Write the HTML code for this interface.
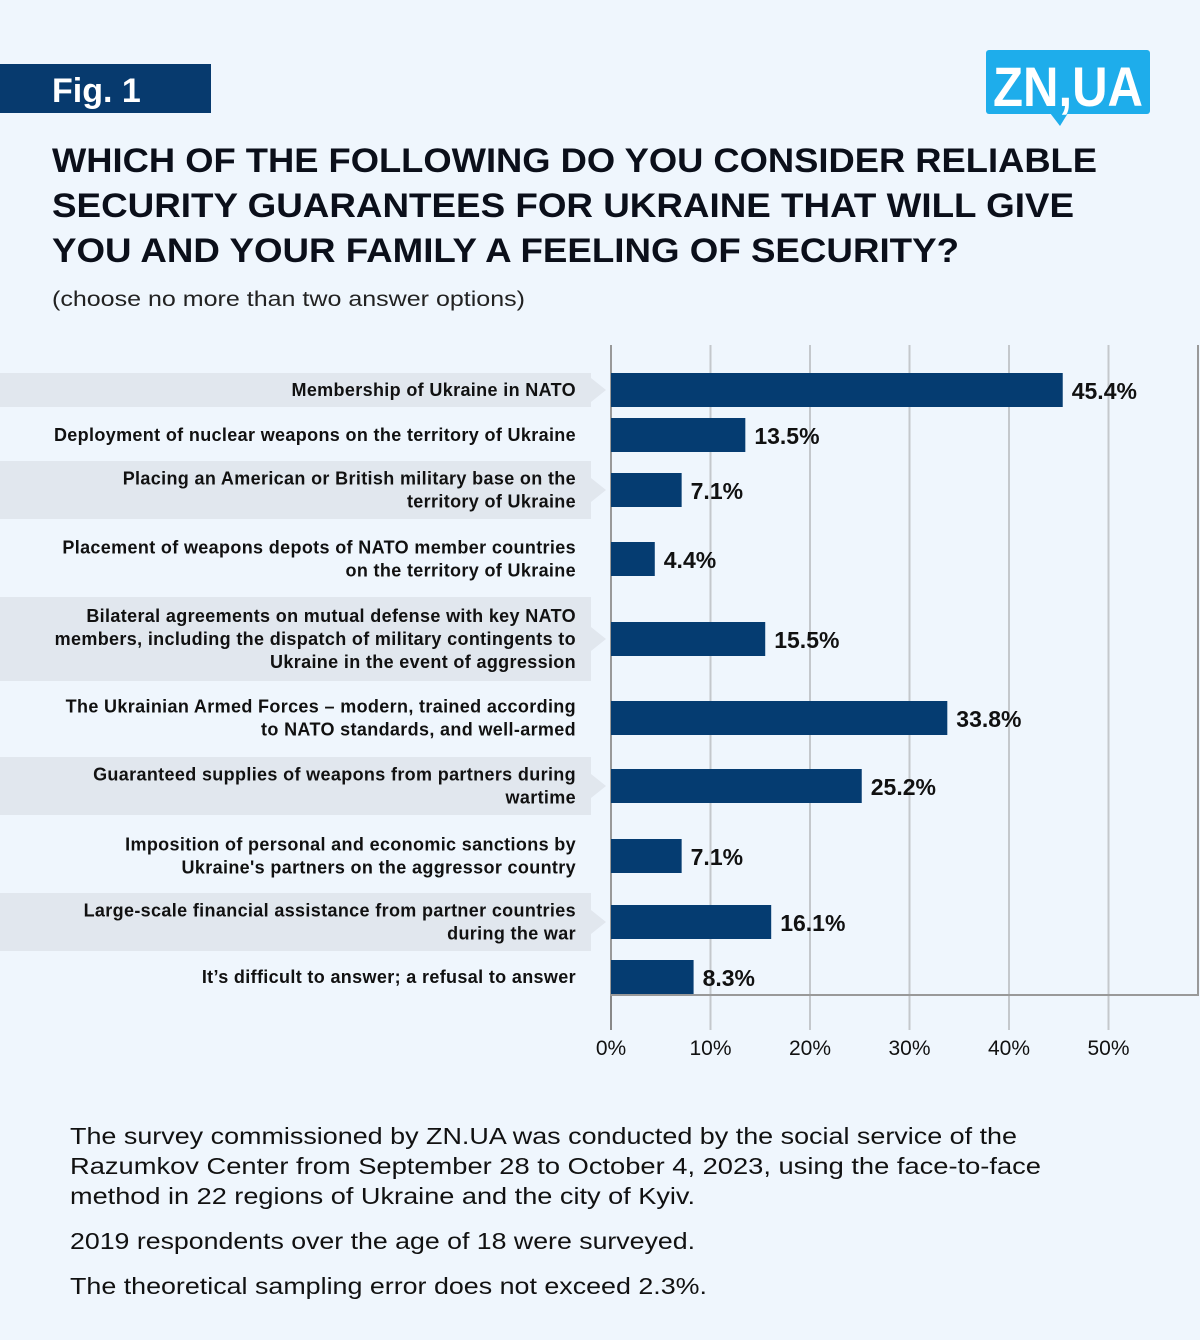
<!DOCTYPE html>
<html><head><meta charset="utf-8"><style>
body{margin:0;background:#eff6fd;}
svg{display:block;font-family:"Liberation Sans",sans-serif;}
</style></head><body>
<svg id="c" width="1200" height="1340" viewBox="0 0 1200 1340">
<rect width="1200" height="1340" fill="#eff6fd"/>
<rect x="0" y="64" width="211" height="49" fill="#073a6e"/>
<text x="52" y="102" font-size="34" font-weight="bold" fill="#fff">Fig. 1</text>
<g>
<rect x="986" y="50" width="164" height="64" rx="3" fill="#1eadeb"/>
<polygon points="1050,113 1068,113 1060,126" fill="#1eadeb"/>
<text x="1068" y="106" font-size="56" font-weight="bold" fill="#fff" text-anchor="middle" textLength="150" lengthAdjust="spacingAndGlyphs">ZN,UA</text>
</g>
<g font-size="34" font-weight="bold" fill="#0b0f1a">
<text x="52" y="172" textLength="1045" lengthAdjust="spacingAndGlyphs">WHICH OF THE FOLLOWING DO YOU CONSIDER RELIABLE</text>
<text x="52" y="217" textLength="1022" lengthAdjust="spacingAndGlyphs">SECURITY GUARANTEES FOR UKRAINE THAT WILL GIVE</text>
<text x="52" y="262" textLength="907" lengthAdjust="spacingAndGlyphs">YOU AND YOUR FAMILY A FEELING OF SECURITY?</text>
</g>
<text x="52" y="306" font-size="21" fill="#222" textLength="473" lengthAdjust="spacingAndGlyphs">(choose no more than two answer options)</text>
<g id="bands"></g>
<g id="grid"></g>
<g id="bars"></g>
<g id="labels"></g>
<g font-size="23" fill="#111">
<text x="70" y="1144" textLength="947" lengthAdjust="spacingAndGlyphs">The survey commissioned by ZN.UA was conducted by the social service of the</text>
<text x="70" y="1174" textLength="971" lengthAdjust="spacingAndGlyphs">Razumkov Center from September 28 to October 4, 2023, using the face-to-face</text>
<text x="70" y="1204" textLength="625" lengthAdjust="spacingAndGlyphs">method in 22 regions of Ukraine and the city of Kyiv.</text>
<text x="70" y="1249" textLength="625" lengthAdjust="spacingAndGlyphs">2019 respondents over the age of 18 were surveyed.</text>
<text x="70" y="1294" textLength="637" lengthAdjust="spacingAndGlyphs">The theoretical sampling error does not exceed 2.3%.</text>
</g>
</svg>
<script>
const categories=[
["Membership of Ukraine in NATO"],
["Deployment of nuclear weapons on the territory of Ukraine"],
["Placing an American or British military base on the","territory of Ukraine"],
["Placement of weapons depots of NATO member countries","on the territory of Ukraine"],
["Bilateral agreements on mutual defense with key NATO","members, including the dispatch of military contingents to","Ukraine in the event of aggression"],
["The Ukrainian Armed Forces – modern, trained according","to NATO standards, and well-armed"],
["Guaranteed supplies of weapons from partners during","wartime"],
["Imposition of personal and economic sanctions by","Ukraine's partners on the aggressor country"],
["Large-scale financial assistance from partner countries","during the war"],
["It’s difficult to answer; a refusal to answer"]
];
const values=[45.4,13.5,7.1,4.4,15.5,33.8,25.2,7.1,16.1,8.3];
const ticks=[0,10,20,30,40,50];
const NS="http://www.w3.org/2000/svg";
function mk(t,a,p){const e=document.createElementNS(NS,t);for(const k in a)e.setAttribute(k,a[k]);p.appendChild(e);return e;}
const x0=611,pxPer=9.95,plotTop=345,plotBottom=995,plotRight=1198;
const x=v=>x0+v*pxPer;
const rowCenters=[390,435,490,559,639,718,786,856,922,977];
const y=i=>rowCenters[i];
const bh=34;
const grid=document.getElementById('grid');
ticks.forEach(t=>{
 const l=mk('line',{x1:x(t),x2:x(t),y1:plotTop,y2:1030,stroke:t===0?'#888':'#c4c8cc','stroke-width':2},grid);
 
 
 const tx=mk('text',{x:x(t),y:1055,'font-size':21,'text-anchor':'middle',fill:'#111'},grid);
 tx.textContent=t+'%';
 
 
});
const fr=mk('polyline',{points:`${x0},${plotTop} ${x0},${plotBottom} ${plotRight},${plotBottom} ${plotRight},${plotTop}`,fill:'none',stroke:'#999','stroke-width':2},grid);


const bands=document.getElementById('bands'),bars=document.getElementById('bars'),labels=document.getElementById('labels');
categories.forEach((c,i)=>{
 const cy=y(i);
 const n=c.length;
 const bhgt=n===1?34:(n===2?58:84);
 if(i%2===0){
  const p=mk('polygon',{points:`0,${cy-bhgt/2} 591,${cy-bhgt/2} 591,${cy-12} 606,${cy} 591,${cy+12} 591,${cy+bhgt/2} 0,${cy+bhgt/2}`,fill:'#e1e7ee'},bands);
  
  
 }
 const t=mk('text',{x:576,'font-size':18,'font-weight':'bold','letter-spacing':0.35,'text-anchor':'end',fill:'#111'},labels);
 
 
 c.forEach((s,k)=>{const ts=mk('tspan',{x:576,y:cy+6+(k-(n-1)/2)*23},t);ts.textContent=s;});
 const r=mk('rect',{x:x0,y:cy-bh/2,width:x(values[i])-x0,height:bh,fill:'#053c71'},bars);
 
 
 const v=mk('text',{x:x(values[i])+9,y:cy+9,'font-size':23,'font-weight':'bold',fill:'#111'},bars);
 v.textContent=values[i].toFixed(1)+'%';
 
 
});
</script>
</body></html>
